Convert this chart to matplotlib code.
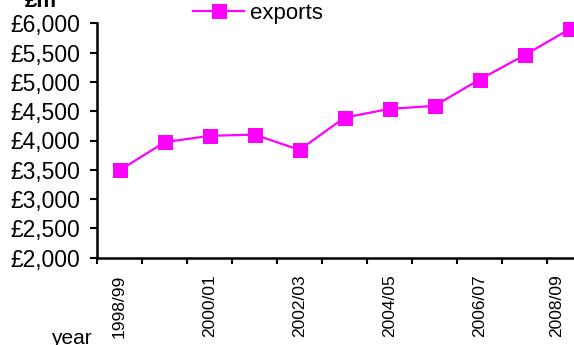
import matplotlib
matplotlib.use("Agg")
import matplotlib.pyplot as plt
from matplotlib.ticker import FuncFormatter, FixedLocator
from matplotlib.transforms import ScaledTranslation

plt.rcParams['font.family'] = ['Liberation Sans', 'DejaVu Sans']

years = ["1998/99", "1999/00", "2000/01", "2001/02", "2002/03", "2003/04",
         "2004/05", "2005/06", "2006/07", "2007/08", "2008/09"]
exports = [3490, 3970, 4080, 4100, 3840, 4390, 4540, 4590, 5040, 5455, 5900]
y_ticks = [2000, 2500, 3000, 3500, 4000, 4500, 5000, 5500, 6000]

W, H = 574, 345
fig = plt.figure(figsize=(W / 100, H / 100), dpi=100)

# plot area; category axis runs past the right edge of the canvas
left, bottom_px, top_px, cat_w = 97, 257.7, 23.3, 45
ax = fig.add_axes([left / W, 1 - bottom_px / H,
                   len(years) * cat_w / W, (bottom_px - top_px) / H])

x = list(range(len(years)))
ax.plot(x, exports, color='#FF00FF', lw=1.6, marker='s', ms=10.8,
        markeredgewidth=0, label='exports', clip_on=False)

ax.set_xlim(-0.5, len(years) - 0.5)
ax.set_ylim(y_ticks[0], y_ticks[-1])
ax.set_yticks(y_ticks)
ax.yaxis.set_major_formatter(FuncFormatter(lambda v, p: f"£{v:,.0f}"))

# tick marks between categories, labels on every other category
ax.xaxis.set_minor_locator(FixedLocator([i - 0.5 for i in range(len(years) + 1)]))
ax.set_xticks(x[::2])
ax.set_xticklabels(years[::2], rotation=90, fontsize=12.5)
ax.tick_params(axis='x', which='major', length=0, pad=12)
ax.tick_params(axis='x', which='minor', length=4, width=1.5, color='black')
ax.tick_params(axis='y', length=5, width=1.5, labelsize=16.5, pad=7)

# keep the last category label inside the canvas
last = ax.get_xticklabels()[-1]
last.set_transform(last.get_transform() +
                   ScaledTranslation(-13 / 100, 0, fig.dpi_scale_trans))

for s in ('top', 'right'):
    ax.spines[s].set_visible(False)
for s in ('left', 'bottom'):
    ax.spines[s].set_linewidth(1.8)
    ax.spines[s].set_color('black')

fig.text(41 / W, 1 - 7 / H, "£m", fontsize=16, fontweight='bold',
         ha='center', va='baseline')
fig.text(71 / W, 1 - 344 / H, "year", fontsize=15, ha='center', va='baseline')

ax.legend(loc='center left', bbox_to_anchor=(193 / W, 1 - 13 / H),
          bbox_transform=fig.transFigure, frameon=False, borderpad=0,
          borderaxespad=0, handlelength=2.3, handletextpad=0.25, fontsize=16)

fig.savefig("out.png", dpi=100)
